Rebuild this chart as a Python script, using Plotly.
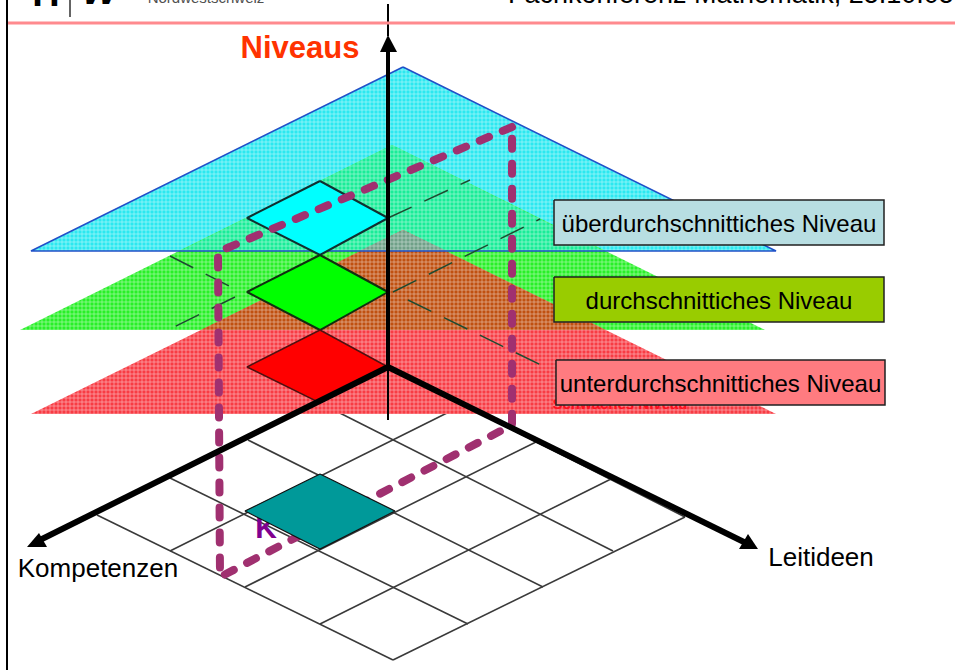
import plotly.graph_objects as go

W, H = 955, 670

# Level triangles: apex, right base corner, left base corner
cyan_x, cyan_y = [403, 776, 31, 403], [67, 251, 251, 67]
green_x, green_y = [392, 765, 20, 392], [145, 330, 330, 145]
red_x, red_y = [403, 776, 31, 403], [230, 414, 414, 230]
# Overlap regions of the translucent levels
cg_x, cg_y = [392, 604, 180, 392], [145, 251, 251, 145]
gr_x, gr_y = [403, 605, 201, 403], [230, 330, 330, 230]
cgr_x, cgr_y = [403, 447, 359, 403], [230, 251, 251, 230]

# Highlighted cells
cell_x = [320, 388, 320, 247, 320]
cell_cyan_y = [181, 218, 255, 218, 181]
cell_green_y = [255, 292, 330, 292, 255]
cell_red_y = [330, 367, 403, 367, 330]
teal_x, teal_y = [320, 395, 320, 245, 320], [474, 511, 549, 511, 474]

# Ground grid lines: (x0, y0, x1, y1)
grid_down = [(97, 515, 393, 660), (170, 478, 468, 624), (248, 440, 543, 587),
             (320, 403, 613, 551), (388, 367, 685, 517)]
grid_up = [(393, 660, 685, 517), (320, 624, 613, 478), (245, 587, 538, 441),
           (170, 551, 465, 404)]

# Thin dashed level edges
level_dashes = [(170, 256, 237, 290), (235, 297, 170, 329), (393, 292, 540, 219),
                (388, 218, 470, 180), (408, 300, 543, 366)]

# Plum dashed frame
frame_x = [512, 218, 220, 512, 512]
frame_y = [127, 252, 577, 425, 127]

# Axes
axis_up = (388, 367, 388, 50)
axis_up_thin = (388, 36, 388, 4)
axis_down_thin = (388, 367, 388, 420)
axis_left = (388, 367, 38, 541)
axis_right = (388, 367, 748, 544)
tri_up_x, tri_up_y = [388, 397, 380, 388], [35, 52, 52, 35]
tri_left_x, tri_left_y = [27, 47, 39, 27], [547, 547, 533, 547]
tri_right_x, tri_right_y = [758, 739, 748, 758], [549, 549, 534, 549]

# Legend boxes
box_labels = ["überdurchschnittiches Niveau", "durchschnittiches Niveau", "unterdurchschnittiches Niveau"]
box_left = [554, 554, 556]
box_right = [884, 884, 885]
box_top = [200, 277, 360]
box_bottom = [245, 322, 405]
box_colors = ["#B8DEE2", "#99CC00", "#FF7B80"]

fig = go.Figure()


def line(x, y, color, width, dash=None):
    fig.add_trace(go.Scatter(x=x, y=y, mode="lines", hoverinfo="skip",
                             line=dict(color=color, width=width, dash=dash)))


def seg(s, color, width, dash=None):
    line([s[0], s[2]], [s[1], s[3]], color, width, dash)


def meshed(x, y, color):
    fig.add_trace(go.Scatter(x=x, y=y, mode="lines", fill="toself", hoverinfo="skip",
                             line=dict(width=0, color=color),
                             fillcolor=color,
                             fillpattern=dict(shape="+", bgcolor=color, fgcolor="#FFFFFF",
                                              fgopacity=0.6, size=4, solidity=0.3)))


def solid(x, y, color, outline=None, width=0):
    fig.add_trace(go.Scatter(x=x, y=y, mode="lines", fill="toself", hoverinfo="skip",
                             fillcolor=color,
                             line=dict(color=outline or color, width=width)))


def txt(x, y, s, size, color, anchor="middle center", bold=False, italic=False):
    fig.add_trace(go.Scatter(x=[x], y=[y], mode="text", text=[s], hoverinfo="skip",
                             textposition=anchor,
                             textfont=dict(family="Liberation Sans", size=size, color=color,
                                           style="italic" if italic else "normal",
                                           weight="bold" if bold else "normal")))


# Ground grid
for s in grid_down + grid_up:
    seg(s, "#3A3A3A", 1.6)

# Level planes
meshed(cyan_x, cyan_y, "#2CE8F0")
meshed(green_x, green_y, "#28F028")
meshed(cg_x, cg_y, "#18EC98")
meshed(red_x, red_y, "#F83C44")
meshed(gr_x, gr_y, "#C05010")
meshed(cgr_x, cgr_y, "#6FA088")
line(cyan_x, cyan_y, "#2050C8", 1.6)
txt(620, 405, "Schwaches Niveau", 15, "#FF1020", bold=True)

# Dashed level edges
for s in level_dashes:
    seg(s, "#1E4A30", 1.5, "26px,14px")

# Level cells
solid(cell_x, cell_cyan_y, "#00FFFF", "#103030", 2)
solid(cell_x, cell_green_y, "#00FF00", "#103010", 2)
solid(cell_x, cell_red_y, "#FF0000", "#501010", 1.5)

# Frame
txt(266, 530, "K", 30, "#800090", bold=True)
line(frame_x, frame_y, "#A03070", 8, "10px,15px")
solid(teal_x, teal_y, "#009999", "#101010", 1.2)

# Axes
seg(axis_up, "#000000", 4)
seg(axis_up_thin, "#000000", 2)
seg(axis_down_thin, "#000000", 2)
seg(axis_left, "#000000", 6)
seg(axis_right, "#000000", 6)
solid(tri_up_x, tri_up_y, "#000000")
solid(tri_left_x, tri_left_y, "#000000")
solid(tri_right_x, tri_right_y, "#000000")

# Legend boxes
for i, lab in enumerate(box_labels):
    solid([box_left[i], box_right[i], box_right[i], box_left[i], box_left[i]],
          [box_top[i], box_top[i], box_bottom[i], box_bottom[i], box_top[i]],
          box_colors[i], "#202020", 1.5)
    txt((box_left[i] + box_right[i]) / 2, (box_top[i] + box_bottom[i]) / 2 + 3, lab, 24, "#000000")

txt(300, 50, "Niveaus", 31, "#FF3300", bold=True)
txt(98, 570, "Kompetenzen", 26, "#000000")
txt(821, 559, "Leitideen", 26, "#000000")

# Page frame and clipped slide header
line([7, 7], [0, 670], "#000000", 2)
line([8, 955], [23, 23], "#FF8A8E", 3)
line([70, 70], [0, 17], "#303030", 1.5)
txt(46, 15, "H", 38, "#000000", "top center", bold=True)
txt(100, 15, "w", 44, "#000000", "top center", bold=True, italic=True)
txt(206, 7, "Nordwestschweiz", 15, "#505050", "top center")
txt(508, 10, "Fachkonferenz Mathematik, 25.10.05", 27, "#000000", "top right")

fig.update_layout(
    width=W, height=H, autosize=False, showlegend=False,
    margin=dict(l=0, r=0, t=0, b=0),
    paper_bgcolor="#FFFFFF", plot_bgcolor="#FFFFFF",
    xaxis=dict(range=[0, W], visible=False, fixedrange=True),
    yaxis=dict(range=[H, 0], visible=False, fixedrange=True),
)
page_fix = ("document.body.style.margin='0';"
            "document.querySelectorAll('.js-line').forEach(function(p){"
            "if(p.style.strokeWidth==='8px'){p.style.strokeLinecap='round';}});")
fig.write_html("out.html", post_script=page_fix, config={"displayModeBar": False})
